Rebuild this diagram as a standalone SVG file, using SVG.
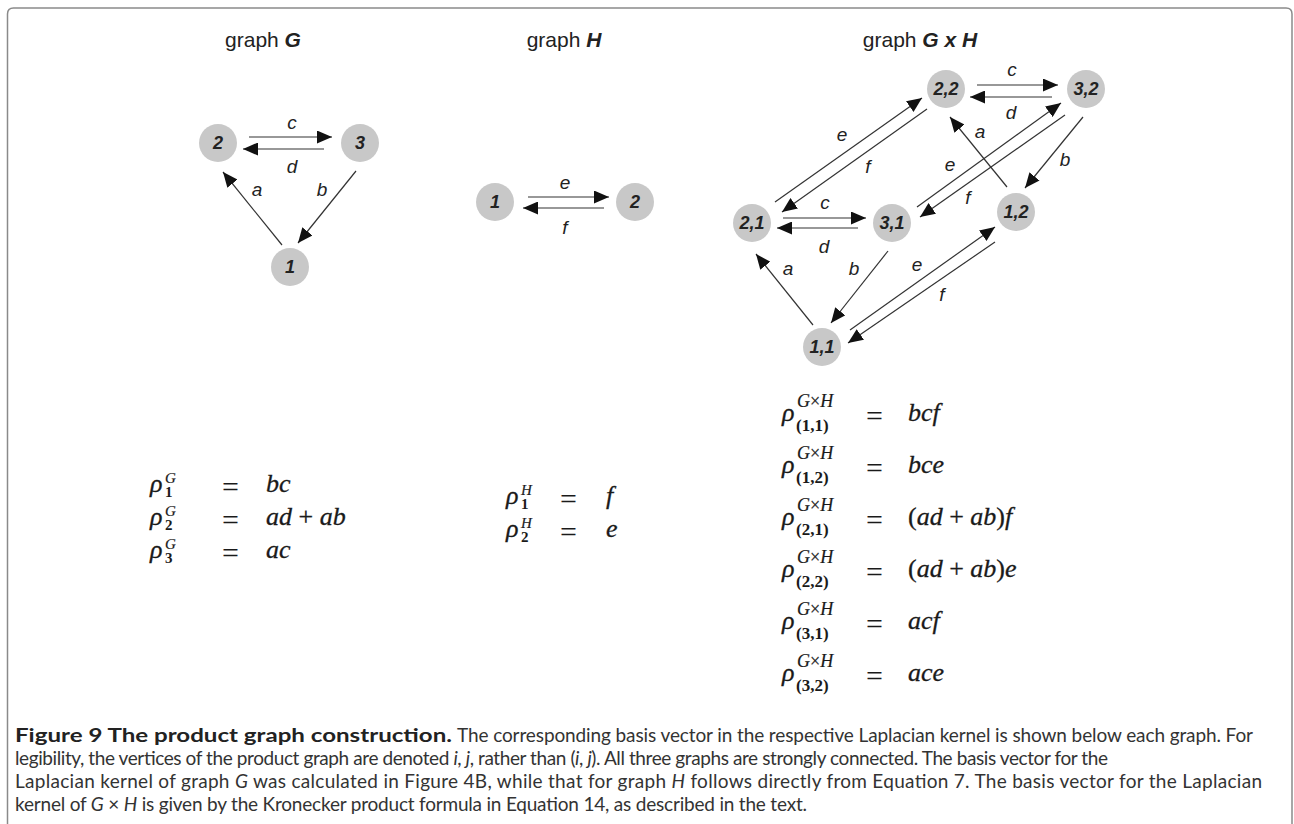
<svg xmlns="http://www.w3.org/2000/svg" width="1294" height="824" viewBox="0 0 1294 824">
<style>
.frame{fill:none;stroke:#8a8a8a;stroke-width:1.5}
.title{font-family:"Liberation Sans",Arial,sans-serif;font-size:21px;fill:#222;text-anchor:middle}
.title .bi{font-weight:bold;font-style:italic}
.node circle{fill:#c8c8c8}
.node text{font-family:"Liberation Sans",Arial,sans-serif;font-size:18px;font-weight:bold;font-style:italic;fill:#222;text-anchor:middle}
.edge{stroke:#333;stroke-width:1.2;fill:none;marker-end:url(#ah)}
.el{font-family:"Liberation Sans",Arial,sans-serif;font-size:19px;font-style:italic;fill:#222;text-anchor:middle}
.m{font-family:"Liberation Serif","Times New Roman",serif;font-size:26px;font-style:italic;fill:#1a1a1a;stroke:#1a1a1a;stroke-width:0.3}
.m .u{font-style:normal}
.sup{font-family:"Liberation Serif","Times New Roman",serif;font-size:18px;font-style:italic;fill:#1a1a1a;stroke:#1a1a1a;stroke-width:0.2}
.sub{font-family:"Liberation Serif","Times New Roman",serif;font-size:17px;font-weight:bold;fill:#1a1a1a}
.sup2{font-family:"Liberation Serif","Times New Roman",serif;font-size:15px;font-style:italic;fill:#1a1a1a;stroke:#1a1a1a;stroke-width:0.2}
.sub2{font-family:"Liberation Serif","Times New Roman",serif;font-size:15px;font-weight:bold;fill:#1a1a1a}
.eq{font-family:"Liberation Serif","Times New Roman",serif;font-size:30px;fill:#1a1a1a}
.cap{font-family:Lato,"Open Sans",sans-serif;font-size:19px;fill:#333}
.cap .b{font-weight:bold;fill:#222}
.cap .i{font-style:italic}
</style>
<defs>
<marker id="ah" markerUnits="userSpaceOnUse" markerWidth="15" markerHeight="13" refX="15" refY="6.5" orient="auto">
<path d="M0,0 L15,6.5 L0,13 z" fill="#111"/>
</marker>
</defs>
<rect width="1294" height="824" fill="#fff"/>
<path class="frame" d="M7.5,830 L7.5,14 Q7.5,8 13.5,8 L1286,8 Q1292,8 1292,14 L1292,830"/>

<g id="titles">
<text class="title" x="263" y="47">graph <tspan class="bi">G</tspan></text>
<text class="title" x="564" y="47">graph <tspan class="bi">H</tspan></text>
<text class="title" x="920" y="47">graph <tspan class="bi">G x H</tspan></text>
</g>

<g id="connectors">
<line class="edge" x1="249" y1="137" x2="332" y2="137"/>
<line class="edge" x1="324" y1="149" x2="243" y2="149"/>
<line class="edge" x1="282" y1="245" x2="223" y2="172"/>
<line class="edge" x1="356" y1="171" x2="298" y2="243"/>
<line class="edge" x1="528" y1="197" x2="609" y2="197"/>
<line class="edge" x1="604" y1="208" x2="523" y2="208"/>
<line class="edge" x1="977" y1="85" x2="1058" y2="85"/>
<line class="edge" x1="1052" y1="97" x2="970" y2="97"/>
<line class="edge" x1="775" y1="202" x2="922" y2="98"/>
<line class="edge" x1="927" y1="109" x2="782" y2="212"/>
<line class="edge" x1="1007" y1="187" x2="950" y2="117"/>
<line class="edge" x1="917" y1="207" x2="1061" y2="103"/>
<line class="edge" x1="1065" y1="115" x2="920" y2="217"/>
<line class="edge" x1="1083" y1="117" x2="1025" y2="188"/>
<line class="edge" x1="783" y1="218" x2="866" y2="218"/>
<line class="edge" x1="858" y1="228" x2="777" y2="228"/>
<line class="edge" x1="813" y1="325" x2="756" y2="254"/>
<line class="edge" x1="888" y1="251" x2="831" y2="323"/>
<line class="edge" x1="850" y1="330" x2="995" y2="227"/>
<line class="edge" x1="995" y1="242" x2="848" y2="343"/>
<g id="edge-labels">
<text class="el" x="292" y="129">c</text>
<text class="el" x="292" y="173">d</text>
<text class="el" x="257" y="196">a</text>
<text class="el" x="322" y="196">b</text>
<text class="el" x="565" y="189">e</text>
<text class="el" x="565" y="234">f</text>
<text class="el" x="1012" y="76">c</text>
<text class="el" x="1011" y="119">d</text>
<text class="el" x="842" y="141">e</text>
<text class="el" x="868" y="173">f</text>
<text class="el" x="980" y="138">a</text>
<text class="el" x="950" y="171">e</text>
<text class="el" x="968" y="204">f</text>
<text class="el" x="1065" y="166">b</text>
<text class="el" x="825" y="209">c</text>
<text class="el" x="824" y="253">d</text>
<text class="el" x="788" y="275">a</text>
<text class="el" x="854" y="275">b</text>
<text class="el" x="917" y="271">e</text>
<text class="el" x="942" y="301">f</text>
</g>
</g>

<g id="G-1" class="node"><circle cx="290" cy="267" r="19"/><text x="290" y="273">1</text></g>
<g id="G-2" class="node"><circle cx="218" cy="143" r="19"/><text x="218" y="149">2</text></g>
<g id="G-3" class="node"><circle cx="360" cy="143" r="19"/><text x="360" y="149">3</text></g>
<g id="H-1" class="node"><circle cx="495" cy="202" r="19"/><text x="495" y="208">1</text></g>
<g id="H-2" class="node"><circle cx="635" cy="202" r="19"/><text x="635" y="208">2</text></g>
<g id="GH-22" class="node"><circle cx="946" cy="89" r="19"/><text x="946" y="95">2,2</text></g>
<g id="GH-32" class="node"><circle cx="1086" cy="89" r="19"/><text x="1086" y="95">3,2</text></g>
<g id="GH-12" class="node"><circle cx="1016" cy="212" r="19"/><text x="1016" y="218">1,2</text></g>
<g id="GH-21" class="node"><circle cx="752" cy="223" r="19"/><text x="752" y="229">2,1</text></g>
<g id="GH-31" class="node"><circle cx="892" cy="223" r="19"/><text x="892" y="229">3,1</text></g>
<g id="GH-11" class="node"><circle cx="822" cy="347" r="19"/><text x="822" y="353">1,1</text></g>

<g id="formulas-G">
<text class="m" x="150" y="492">ρ</text><text class="sup2" x="165" y="483">G</text><text class="sub2" x="165" y="497">1</text>
<text class="eq" x="222" y="497">=</text><text class="m" x="266" y="492">bc</text>
<text class="m" x="150" y="525">ρ</text><text class="sup2" x="165" y="516">G</text><text class="sub2" x="165" y="530">2</text>
<text class="eq" x="222" y="530">=</text><text class="m" x="266" y="525">ad <tspan class="u">+</tspan> ab</text>
<text class="m" x="150" y="558">ρ</text><text class="sup2" x="165" y="549">G</text><text class="sub2" x="165" y="563">3</text>
<text class="eq" x="222" y="563">=</text><text class="m" x="266" y="558">ac</text>
</g>

<g id="formulas-H">
<text class="m" x="506" y="504">ρ</text><text class="sup2" x="521" y="495">H</text><text class="sub2" x="521" y="509">1</text>
<text class="eq" x="560" y="509">=</text><text class="m" x="606" y="504">f</text>
<text class="m" x="506" y="537">ρ</text><text class="sup2" x="521" y="528">H</text><text class="sub2" x="521" y="542">2</text>
<text class="eq" x="560" y="542">=</text><text class="m" x="606" y="537">e</text>
</g>

<g id="formulas-GH">
<text class="m" x="782" y="421">ρ</text><text class="sup" x="797" y="407">G<tspan font-style="normal">×</tspan>H</text><text class="sub" x="796" y="431">(1,1)</text>
<text class="eq" x="866" y="426">=</text><text class="m" x="908" y="421">bcf</text>
<text class="m" x="782" y="473">ρ</text><text class="sup" x="797" y="459">G<tspan font-style="normal">×</tspan>H</text><text class="sub" x="796" y="483">(1,2)</text>
<text class="eq" x="866" y="478">=</text><text class="m" x="908" y="473">bce</text>
<text class="m" x="782" y="525">ρ</text><text class="sup" x="797" y="511">G<tspan font-style="normal">×</tspan>H</text><text class="sub" x="796" y="535">(2,1)</text>
<text class="eq" x="866" y="530">=</text><text class="m" x="908" y="525"><tspan class="u">(</tspan>ad <tspan class="u">+</tspan> ab<tspan class="u">)</tspan>f</text>
<text class="m" x="782" y="577">ρ</text><text class="sup" x="797" y="563">G<tspan font-style="normal">×</tspan>H</text><text class="sub" x="796" y="587">(2,2)</text>
<text class="eq" x="866" y="582">=</text><text class="m" x="908" y="577"><tspan class="u">(</tspan>ad <tspan class="u">+</tspan> ab<tspan class="u">)</tspan>e</text>
<text class="m" x="782" y="629">ρ</text><text class="sup" x="797" y="615">G<tspan font-style="normal">×</tspan>H</text><text class="sub" x="796" y="639">(3,1)</text>
<text class="eq" x="866" y="634">=</text><text class="m" x="908" y="629">acf</text>
<text class="m" x="782" y="681">ρ</text><text class="sup" x="797" y="667">G<tspan font-style="normal">×</tspan>H</text><text class="sub" x="796" y="691">(3,2)</text>
<text class="eq" x="866" y="686">=</text><text class="m" x="908" y="681">ace</text>
</g>

<g id="caption" class="cap">
<text x="15" y="742" textLength="437" lengthAdjust="spacingAndGlyphs" class="b">Figure 9 The product graph construction.</text>
<text x="457" y="742" textLength="796" lengthAdjust="spacing">The corresponding basis vector in the respective Laplacian kernel is shown below each graph. For</text>
<text x="15" y="765" textLength="1093" lengthAdjust="spacing">legibility, the vertices of the product graph are denoted <tspan class="i">i</tspan>, <tspan class="i">j</tspan>, rather than (<tspan class="i">i</tspan>, <tspan class="i">j</tspan>). All three graphs are strongly connected. The basis vector for the</text>
<text x="15" y="788" textLength="1247" lengthAdjust="spacing">Laplacian kernel of graph <tspan class="i">G</tspan> was calculated in Figure 4B, while that for graph <tspan class="i">H</tspan> follows directly from Equation 7. The basis vector for the Laplacian</text>
<text x="15" y="811" textLength="792" lengthAdjust="spacing">kernel of <tspan class="i">G</tspan> × <tspan class="i">H</tspan> is given by the Kronecker product formula in Equation 14, as described in the text.</text>
</g>
</svg>
